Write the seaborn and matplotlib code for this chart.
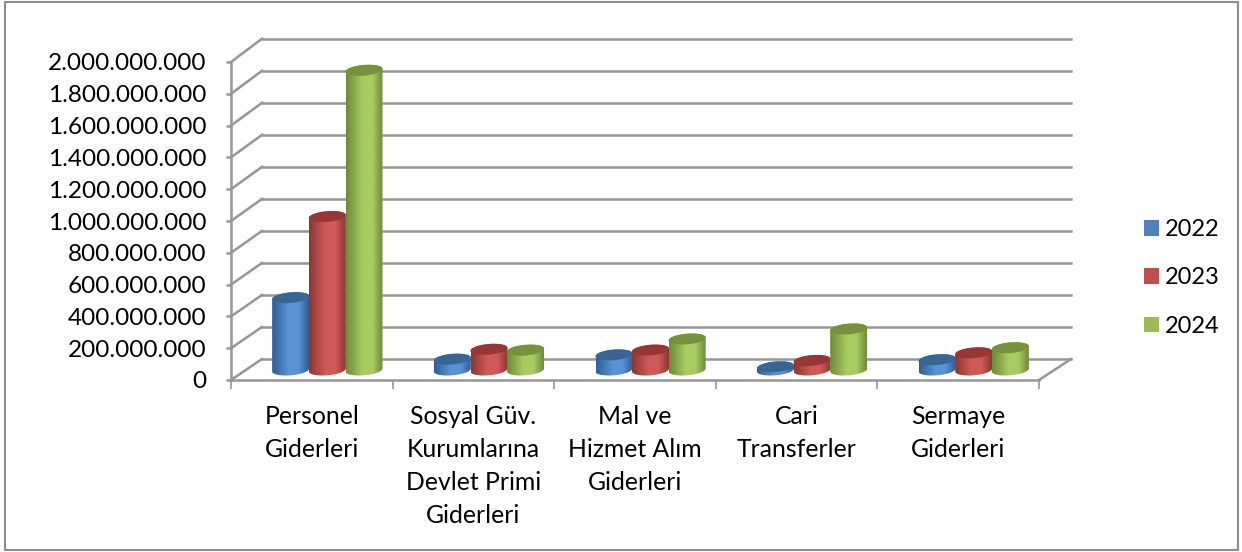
import numpy as np
import pandas as pd
import matplotlib
matplotlib.use('Agg')
import matplotlib.pyplot as plt
import seaborn as sns
from matplotlib.colors import LinearSegmentedColormap
from matplotlib.lines import Line2D
from matplotlib.patches import Patch, Polygon, Rectangle
from matplotlib.ticker import FuncFormatter
from matplotlib.transforms import IdentityTransform

categories = ['Personel\nGiderleri', 'Sosyal Güv.\nKurumlarına\nDevlet Primi\nGiderleri',
              'Mal ve\nHizmet Alım\nGiderleri', 'Cari\nTransferler', 'Sermaye\nGiderleri']
years = ['2022', '2023', '2024']
values_2022 = [455_000_000, 68_000_000, 95_000_000, 20_000_000, 65_000_000]
values_2023 = [965_000_000, 130_000_000, 125_000_000, 60_000_000, 108_000_000]
values_2024 = [1_885_000_000, 125_000_000, 195_000_000, 258_000_000, 140_000_000]
y_ticks = list(range(0, 2_000_000_001, 200_000_000))

legend_colors = ['#4f81bd', '#c0504d', '#9bbb59']
side_colors = [('#2f5f94', '#5a92d6'), ('#8b3734', '#d05a57'), ('#6f8b3a', '#a8cc60')]
cap_colors = ['#386594', '#953735', '#76923c']
GRAY = '#969696'
LW = 1.8

W, H = 1242, 552
plt.rcParams['font.family'] = ['Lato', 'DejaVu Sans']
fig = plt.figure(figsize=(W / 100, H / 100), dpi=100)
fig.patches.append(Rectangle((5 / W, 1 - 550 / H), 1233 / W, 548 / H, transform=fig.transFigure,
                             fill=False, edgecolor='#8c8c8c', linewidth=1.5))


def add_plane(x0, x1, y_bottom, y_top):
    ax = fig.add_axes([x0 / W, 1 - y_bottom / H, (x1 - x0) / W, (y_bottom - y_top) / H])
    ax.patch.set_visible(False)
    ax.set_xlim(-0.5, 4.5)
    ax.set_ylim(0, 2_000_000_000)
    return ax


# back wall, front axes and the plane the cylinders stand in
wall = add_plane(262, 1071, 359, 38.7)
front = add_plane(231, 1039, 380, 62)
mid = add_plane(246.5, 1054.5, 370, 52)

wall.set_yticks(y_ticks)
wall.set_xticks([])
wall.grid(axis='y', color=GRAY, linewidth=LW)
for line in wall.get_ygridlines():
    line.set_clip_on(False)
wall.tick_params(left=False, labelleft=False)
sns.despine(ax=wall, left=True, bottom=True)

front.set_yticks(y_ticks)
front.yaxis.set_major_formatter(FuncFormatter(lambda v, _: f'{int(v):,}'.replace(',', '.')))
front.set_xticks(np.arange(-0.5, 5))
front.set_xticklabels([])
front.set_xticks(range(5), labels=categories, minor=True, ha='center', linespacing=1.53)
front.tick_params(axis='x', which='major', length=6.5, width=1.2, color=GRAY)
front.tick_params(axis='x', which='minor', length=0, pad=18, labelsize=17.8, labelcolor='black')
front.tick_params(axis='y', length=3.5, width=LW, color=GRAY, labelsize=17.6, pad=14, labelcolor='black')
for label in front.get_yticklabels():
    label.set_va('center_baseline')
sns.despine(ax=front)
front.spines['left'].set(color=GRAY, linewidth=LW)
front.spines['bottom'].set(color=GRAY, linewidth=LW)

# oblique lines that join the front axis to the back wall
for v in y_ticks:
    p0 = front.transData.transform((-0.5, v))
    p1 = wall.transData.transform((-0.5, v))
    fig.add_artist(Line2D([p0[0], p1[0]], [p0[1], p1[1]], transform=IdentityTransform(),
                          color=GRAY, linewidth=LW))
p0 = front.transData.transform((4.5, 0))
p1 = wall.transData.transform((4.5, 0))
fig.add_artist(Line2D([p0[0], p1[0]], [p0[1], p1[1]], transform=IdentityTransform(),
                      color=GRAY, linewidth=LW))

df = pd.DataFrame({
    'kategori': categories * 3,
    'yil': [y for y in years for _ in categories],
    'tutar': values_2022 + values_2023 + values_2024,
})
sns.barplot(data=df, x='kategori', y='tutar', hue='yil', order=categories, hue_order=years,
            palette=legend_colors, width=0.68, gap=0, legend=False, ax=mid)
mid.set_xlim(-0.5, 4.5)
mid.set_ylim(0, 2_000_000_000)
mid.axis('off')

RX, RY, TILT = 18.6, 5.3, np.radians(5)


def ring(cx, cy, t):
    x = RX * np.cos(t)
    y = RY * np.sin(t)
    return np.column_stack([cx + x * np.cos(TILT) - y * np.sin(TILT),
                            cy + x * np.sin(TILT) + y * np.cos(TILT)])


# turn every seaborn bar into a shaded cylinder
z = 3
for container, (edge, light), cap in zip(mid.containers, side_colors, cap_colors):
    cmap = LinearSegmentedColormap.from_list('side', [(0, edge), (0.45, light), (0.72, light), (1, edge)])
    for bar in container:
        bar.set_visible(False)
        x0, x1 = bar.get_x(), bar.get_x() + bar.get_width()
        top = bar.get_height()
        bx0, by0 = mid.transData.transform((x0, 0))
        bx1, by1 = mid.transData.transform((x1, top))
        cx = (bx0 + bx1) / 2
        body = np.vstack([ring(cx, by0, np.linspace(np.pi, 2 * np.pi, 40)),
                          ring(cx, by1, np.linspace(0, np.pi, 40))])
        clip = Polygon(body, closed=True, transform=IdentityTransform())
        y_pad = (mid.transData.inverted().transform((0, by0 + 10))[1]
                 - mid.transData.inverted().transform((0, by0))[1])
        img = mid.imshow(np.linspace(0, 1, 64)[None, :], cmap=cmap, aspect='auto',
                         extent=[x0, x1, -y_pad, top + y_pad], zorder=z, interpolation='bilinear')
        img.set_clip_box(fig.bbox)
        img.set_clip_path(clip)
        mid.add_patch(Polygon(ring(cx, by1, np.linspace(0, 2 * np.pi, 60)), closed=True,
                              transform=IdentityTransform(), facecolor=cap, edgecolor='none',
                              zorder=z + 0.5, clip_on=False))
        z += 1
mid.set_xlim(-0.5, 4.5)
mid.set_ylim(0, 2_000_000_000)

handles = [Patch(facecolor=c, edgecolor='none') for c in legend_colors]
fig.legend(handles, years, loc='center left', bbox_to_anchor=(1123 / W, 1 - 278 / H), frameon=False,
           fontsize=17, handlelength=0.64, handleheight=0.64, handletextpad=0.25, labelspacing=1.15,
           labelcolor='black')

fig.savefig('out.png', dpi=100)
